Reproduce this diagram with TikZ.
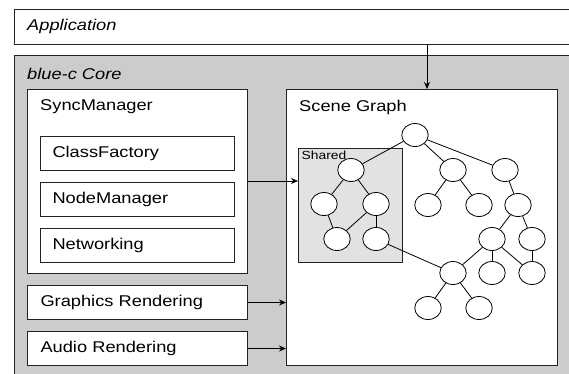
\documentclass[tikz,border=0pt]{standalone}
\usepackage{fontspec}
\setmainfont{Liberation Sans}[FakeStretch=1.17]
\usetikzlibrary{shapes.geometric,arrows.meta}
\definecolor{coregray}{HTML}{CCCCCC}
\definecolor{sharedgray}{HTML}{E2E2E2}
\definecolor{linegray}{HTML}{222222}
\begin{document}
\begin{tikzpicture}[x=1pt,y=-1pt,
  font=\fontsize{15.6}{18}\selectfont,
  box/.style={draw=linegray,line width=1pt,fill=white,anchor=north west,inner sep=0pt},
  titletext/.style={anchor=west,inner sep=0pt},
  tn/.style={draw=black,line width=0.8pt,fill=white,ellipse,minimum width=26.5pt,minimum height=23pt,inner sep=0pt},
  edge/.style={line width=0.8pt},
  arr/.style={line width=0.9pt,-{Stealth[length=7pt,width=6pt]}}]
\useasboundingbox (0,0) rectangle (569,373);
\clip (0,0) rectangle (569,373);
% Application
\node[box,minimum width=570pt,minimum height=35pt] (app) at (13.5,9) {};
\node[titletext,font=\fontsize{15.6}{18}\selectfont\itshape] (apptitle) at (27,26.5) {Application};
% Core
\node[box,fill=coregray,line width=1.2pt,minimum width=570pt,minimum height=330pt] (core) at (13.5,55) {};
\node[titletext,font=\fontsize{15.6}{18}\selectfont\itshape] (coretitle) at (27,74) {blue-c Core};
% SyncManager
\node[box,minimum width=220pt,minimum height=184pt] (sync) at (27,89) {};
\node[titletext] (synctitle) at (40,107) {SyncManager};
\node[box,minimum width=194pt,minimum height=34pt,text width=170pt,inner xsep=12pt,align=left] (cf) at (40,136) {ClassFactory};
\node[box,minimum width=194pt,minimum height=34pt,text width=170pt,inner xsep=12pt,align=left] (nm) at (40,182) {NodeManager};
\node[box,minimum width=194pt,minimum height=34pt,text width=170pt,inner xsep=12pt,align=left] (net) at (40,228) {Networking};
% Rendering
\node[box,minimum width=220pt,minimum height=34pt,text width=194pt,inner xsep=13pt,align=left] (gfx) at (27,285) {Graphics Rendering};
\node[box,minimum width=220pt,minimum height=34pt,text width=194pt,inner xsep=13pt,align=left] (aud) at (27,331) {Audio Rendering};
% Scene graph
\node[box,minimum width=271pt,minimum height=276pt] (sg) at (286,89) {};
\node[titletext] (sgtitle) at (299,107) {Scene Graph};
\node[box,fill=sharedgray,minimum width=104pt,minimum height=114pt] (shared) at (298,147.5) {};
\node[titletext,font=\fontsize{11.8}{13}\selectfont] (sharedtitle) at (301.5,155) {Shared};
% tree nodes
\node[tn] (r) at (415,135) {};
\node[tn] (s1) at (351,170) {};
\node[tn] (m1) at (453,170) {};
\node[tn] (q1) at (505,170) {};
\node[tn] (s2a) at (324,204) {};
\node[tn] (s2b) at (376,204) {};
\node[tn] (m2a) at (428,205) {};
\node[tn] (m2b) at (479,205) {};
\node[tn] (q2) at (518,205) {};
\node[tn] (s3a) at (337,239) {};
\node[tn] (s3b) at (376,239) {};
\node[tn] (q3a) at (492,239) {};
\node[tn] (q3b) at (532,239) {};
\node[tn] (x) at (453,273) {};
\node[tn] (q4a) at (492,273) {};
\node[tn] (q4b) at (532,273) {};
\node[tn] (xa) at (428,308) {};
\node[tn] (xb) at (479,308) {};
% tree edges
\draw[edge] (r) -- (s1);
\draw[edge] (r) -- (m1);
\draw[edge] (r) -- (q1);
\draw[edge] (s1) -- (s2a);
\draw[edge] (s1) -- (s2b);
\draw[edge] (s2a) -- (s3a);
\draw[edge] (s2b) -- (s3a);
\draw[edge] (s2b) -- (s3b);
\draw[edge] (m1) -- (m2a);
\draw[edge] (m1) -- (m2b);
\draw[edge] (q1) -- (q2);
\draw[edge] (q2) -- (q3a);
\draw[edge] (q2) -- (q3b);
\draw[edge] (q3a) -- (x);
\draw[edge] (q3a) -- (q4a);
\draw[edge] (q3a) -- (q4b);
\draw[edge] (q3b) -- (q4b);
\draw[edge] (s3b) -- (x);
\draw[edge] (x) -- (xa);
\draw[edge] (x) -- (xb);
% arrows
\draw[arr] (app.south -| 427,0) -- (sg.north -| 427,0);
\draw[arr] (sync.east |- 0,181) -- (shared.west |- 0,181);
\draw[arr] (gfx.east) -- (sg.west |- gfx.east);
\draw[arr] (aud.east) -- (sg.west |- aud.east);
\end{tikzpicture}
\end{document}
